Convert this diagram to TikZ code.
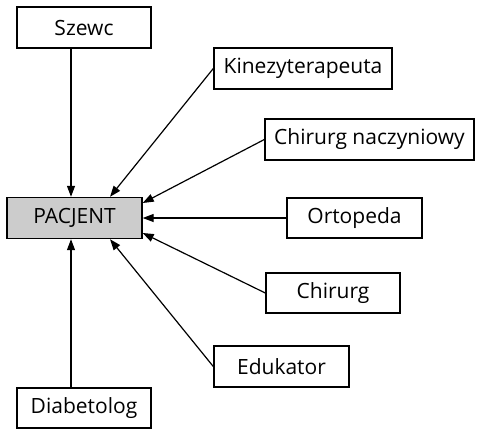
\documentclass[tikz,border=0pt]{standalone}
\usepackage{fontspec}
\setmainfont{Open Sans}
\usetikzlibrary{arrows.meta}
\begin{document}
\begin{tikzpicture}[x=1pt,y=-1pt,
  box/.style={draw=black,line width=1.4pt,fill=white,inner sep=0pt,font=\fontsize{21}{24}\selectfont},
  arr/.style={line width=1.2pt,-{Triangle[length=11pt,width=8pt]}}]
\useasboundingbox (0,0) rectangle (479,429);
\node[box,minimum width=134pt,minimum height=41pt] (szewc) at (84,27.5) {Szewc};
\node[box,minimum width=178pt,minimum height=41pt] (kin) at (303,68.5) {Kinezyterapeuta};
\node[box,minimum width=209pt,minimum height=41pt] (chn) at (369.5,139.5) {Chirurg naczyniowy};
\node[box,fill=black!20,minimum width=135pt,minimum height=41pt] (pac) at (74.5,218) {PACJENT};
\node[box,minimum width=135pt,minimum height=40pt] (orto) at (354.5,218) {Ortopeda};
\node[box,minimum width=134pt,minimum height=40pt] (chir) at (333,293) {Chirurg};
\node[box,minimum width=135pt,minimum height=41pt] (edu) at (281.5,366.5) {Edukator};
\node[box,minimum width=134pt,minimum height=40pt] (dia) at (84,408) {Diabetolog};
\draw[arr] ([xshift=-13pt]szewc.south) -- ([xshift=-3.5pt]pac.north);
\draw[arr] (kin.west) -- ([xshift=35.5pt]pac.north);
\draw[arr] (chn.west) -- ([yshift=15pt]pac.east);
\draw[arr] (orto.west) -- (pac.east);
\draw[arr] (chir.west) -- ([yshift=-15pt]pac.east);
\draw[arr] (edu.west) -- ([xshift=35.5pt]pac.south);
\draw[arr] ([xshift=-13pt]dia.north) -- ([xshift=-3.5pt]pac.south);
\end{tikzpicture}
\end{document}
